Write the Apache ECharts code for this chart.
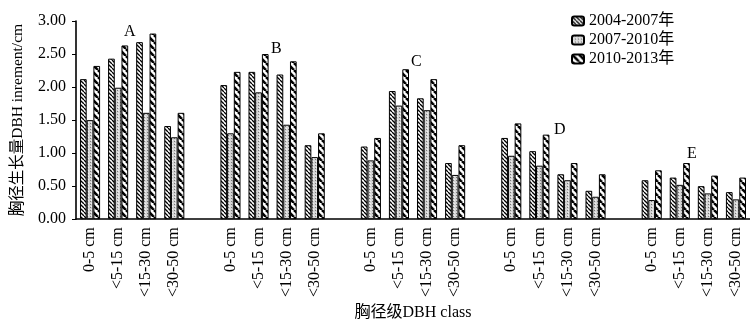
<!DOCTYPE html>
<html><head><meta charset="utf-8">
<script src="https://cdn.jsdelivr.net/npm/echarts@6/dist/echarts.min.js"></script>
<style>html,body{margin:0;padding:0;background:#fff}#c{width:750px;height:326px}</style>
</head><body><div id="c"></div>
<script>
// Data
var groups = ['A', 'B', 'C', 'D', 'E'];
var classes = ['0-5 cm', '<5-15 cm', '<15-30 cm', '<30-50 cm'];
var seriesNames = ['2004-2007年', '2007-2010年', '2010-2013年'];
var s2004_2007 = [2.12, 2.43, 2.68, 1.41,  2.03, 2.23, 2.19, 1.12,  1.10, 1.94, 1.83, 0.85,  1.23, 1.03, 0.68, 0.43,  0.59, 0.63, 0.50, 0.41];
var s2007_2010 = [1.50, 1.99, 1.61, 1.24,  1.30, 1.92, 1.43, 0.94,  0.89, 1.72, 1.65, 0.67,  0.96, 0.81, 0.59, 0.34,  0.29, 0.52, 0.39, 0.30];
var s2010_2013 = [2.32, 2.63, 2.81, 1.61,  2.23, 2.50, 2.39, 1.30,  1.23, 2.27, 2.12, 1.12,  1.45, 1.28, 0.85, 0.68,  0.74, 0.85, 0.66, 0.63];
var yTicks = [0, 0.5, 1, 1.5, 2, 2.5, 3];

// Build categories with an empty slot between groups
var categories = [];
function expand(arr) {
  var out = [];
  groups.forEach(function (g, gi) {
    for (var k = 0; k < classes.length; k++) out.push(arr[gi * classes.length + k]);
    if (gi < groups.length - 1) out.push(null);
  });
  return out;
}
groups.forEach(function (g, gi) {
  classes.forEach(function (c) { categories.push(c); });
  if (gi < groups.length - 1) categories.push(' ');
});

function makePattern(type) {
  var cv = document.createElement('canvas');
  var ctx = cv.getContext('2d');
  if (type === 1) {
    cv.width = 4; cv.height = 4;
    ctx.fillStyle = '#fff'; ctx.fillRect(0, 0, 4, 4);
    ctx.strokeStyle = '#000'; ctx.lineWidth = 1.3;
    [-4, 0, 4].forEach(function (o) { ctx.beginPath(); ctx.moveTo(o, 0); ctx.lineTo(o + 4, 4); ctx.stroke(); });
  } else if (type === 2) {
    cv.width = 3; cv.height = 3;
    ctx.fillStyle = '#d4d4d4'; ctx.fillRect(0, 0, 3, 3);
    ctx.fillStyle = '#777'; ctx.fillRect(0, 0, 1, 1);
    ctx.fillStyle = '#f2f2f2'; ctx.fillRect(1, 2, 1, 1);
  } else {
    cv.width = 7; cv.height = 7;
    ctx.fillStyle = '#fff'; ctx.fillRect(0, 0, 7, 7);
    ctx.strokeStyle = '#000'; ctx.lineWidth = 2.6;
    [-7, 0, 7].forEach(function (o) { ctx.beginPath(); ctx.moveTo(o, 0); ctx.lineTo(o + 7, 7); ctx.stroke(); });
  }
  return { image: cv, repeat: 'repeat' };
}

var FONT = '"Liberation Serif", "Times New Roman", "Noto Sans CJK SC", serif';
var patterns = [makePattern(1), makePattern(2), makePattern(3)];
var dataSets = [s2004_2007, s2007_2010, s2010_2013];

var chart = echarts.init(document.getElementById('c'), null, { renderer: 'canvas' });
chart.setOption({
  animation: false,
  backgroundColor: '#fff',
  textStyle: { fontFamily: FONT, color: '#000' },
  grid: { left: 76, top: 21, width: 676, height: 199, containLabel: false },
  legend: {
    orient: 'vertical', left: 566, top: 8, itemWidth: 12, itemHeight: 9, itemGap: 3,
    textStyle: { fontFamily: FONT, fontSize: 16, color: '#000' },
    data: seriesNames
  },
  xAxis: {
    type: 'category', data: categories,
    name: '胸径级DBH class', nameLocation: 'middle', nameGap: 84,
    nameTextStyle: { fontFamily: FONT, fontSize: 16, color: '#000' },
    axisLine: { lineStyle: { color: '#000', width: 1.6 } },
    axisTick: { show: false },
    axisLabel: { interval: 0, rotate: 90, fontSize: 16, color: '#000', fontFamily: FONT, margin: 8 }
  },
  yAxis: {
    type: 'value', min: 0, max: 3, interval: 0.5,
    name: '胸径生长量DBH inrement/cm', nameLocation: 'middle', nameGap: 50, nameRotate: 90,
    nameTextStyle: { fontFamily: FONT, fontSize: 15.5, color: '#000' },
    axisLine: { show: true, lineStyle: { color: '#000', width: 1.6 } },
    axisTick: { show: true, inside: false, length: 4, lineStyle: { color: '#000' } },
    splitLine: { show: false },
    axisLabel: { fontSize: 16, color: '#000', fontFamily: FONT, margin: 10,
      formatter: function (v) { return v.toFixed(2); } }
  },
  graphic: [
    { type: 'text', left: 124, top: 24, style: { text: 'A', font: '16px ' + FONT, fill: '#000' } },
    { type: 'text', left: 271, top: 41, style: { text: 'B', font: '16px ' + FONT, fill: '#000' } },
    { type: 'text', left: 411, top: 54, style: { text: 'C', font: '16px ' + FONT, fill: '#000' } },
    { type: 'text', left: 554, top: 122, style: { text: 'D', font: '16px ' + FONT, fill: '#000' } },
    { type: 'text', left: 687, top: 146, style: { text: 'E', font: '16px ' + FONT, fill: '#000' } }
  ],
  series: seriesNames.map(function (n, i) {
    return {
      name: n, type: 'bar', data: expand(dataSets[i]),
      barWidth: 6.7, barGap: '0%',
      itemStyle: { color: patterns[i], borderColor: '#000', borderWidth: 1 }
    };
  })
});
</script>
</body></html>
